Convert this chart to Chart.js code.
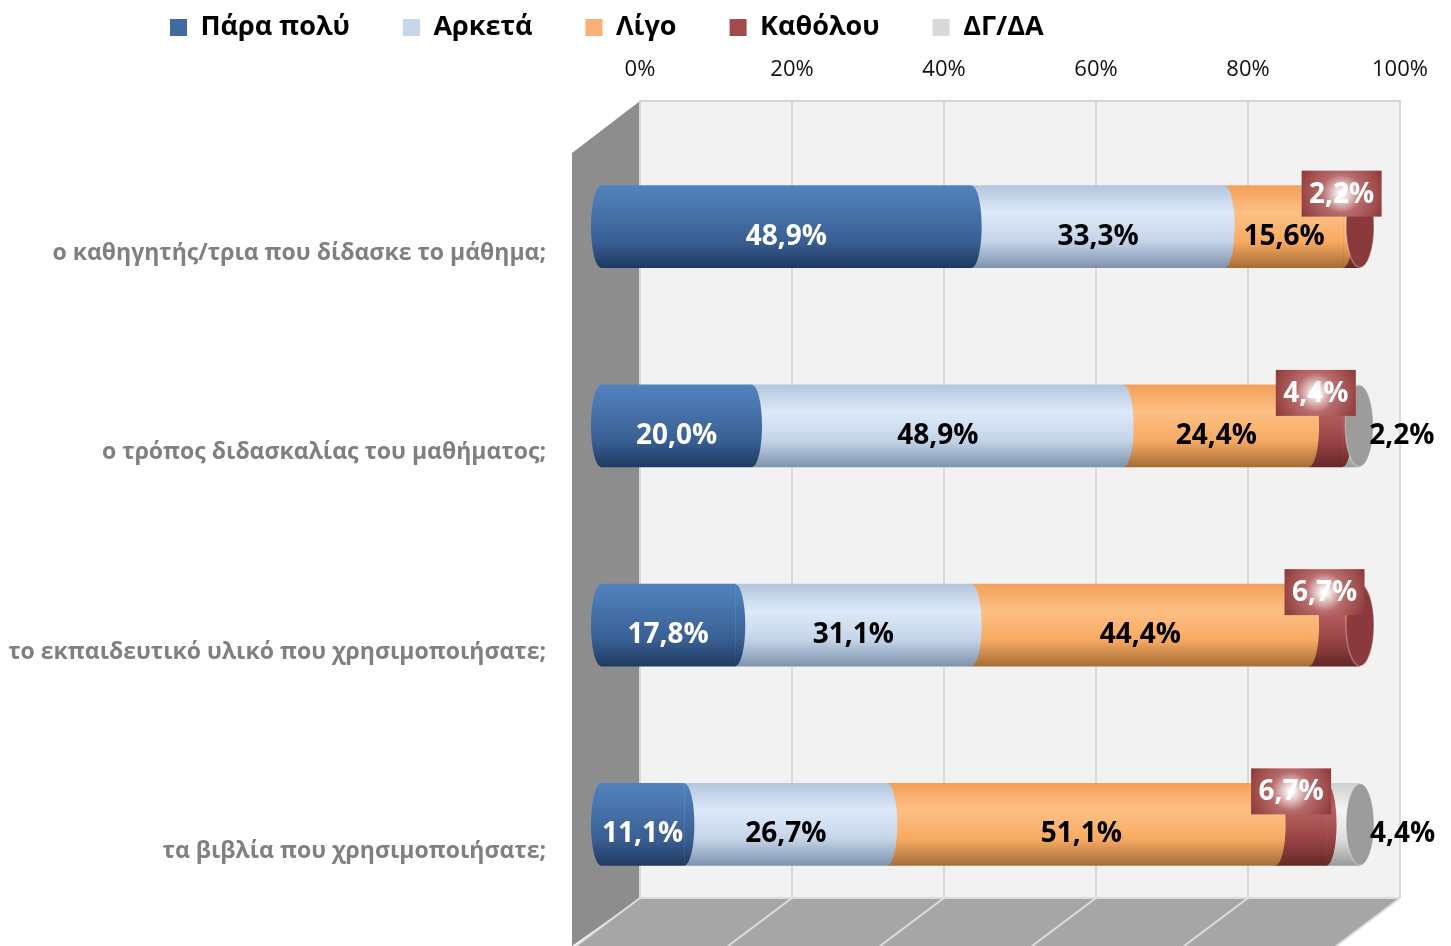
<!DOCTYPE html>
<html lang="el">
<head>
<meta charset="UTF-8">
<title>Αξιολόγηση μαθήματος</title>
<script src="https://cdn.jsdelivr.net/npm/chart.js"></script>
<style>
  html, body { margin: 0; padding: 0; background: #fff; }
</style>
</head>
<body>
<canvas id="chart" width="1451" height="946"></canvas>
<script>
  // data
  const questions = [
    "ο καθηγητής/τρια που δίδασκε το μάθημα;",
    "ο τρόπος διδασκαλίας του μαθήματος;",
    "το εκπαιδευτικό υλικό που χρησιμοποιήσατε;",
    "τα βιβλία που χρησιμοποιήσατε;"
  ];
  const seriesNames = ["Πάρα πολύ", "Αρκετά", "Λίγο", "Καθόλου", "ΔΓ/ΔΑ"];
  const paraPoly = [48.9, 20.0, 17.8, 11.1];
  const arketa   = [33.3, 48.9, 31.1, 26.7];
  const ligo     = [15.6, 24.4, 44.4, 51.1];
  const katholou = [2.2, 4.4, 6.7, 6.7];
  const dgda     = [0, 2.2, 0, 4.4];
  const tickValues = [0, 20, 40, 60, 80, 100];

  // cylinder shading: top, light band, middle, bottom
  const shades = [
    ["#5282bd", "#4672a9", "#395f93", "#1f3a61"],
    ["#b3c6de", "#dde9f9", "#c4d4e8", "#7e93ad"],
    ["#f3a05a", "#fdc084", "#f7aa63", "#a66d37"],
    ["#a24c4c", "#b65f5f", "#9a4545", "#652828"],
    ["#cfcfcf", "#f5f5f5", "#dddddd", "#9a9a9a"]
  ];
  const faceColors = ["#2f5285", "#9fb3cc", "#c98542", "#8a3a3a", "#9c9c9c"];
  const legendColors = ["#3f6ba1", "#c6d7ec", "#f9b074", "#a34b4b", "#d9d9d9"];
  const labelColors = ["#ffffff", "#000000", "#000000", "#ffffff", "#000000"];

  const SHIFT_X = -40, SHIFT_Y = 26, R = 41, BULGE = 10;
  const FONT = "'Open Sans', 'Noto Sans', sans-serif";

  function cylGrad(ctx, cy, c) {
    const g = ctx.createLinearGradient(0, cy - R, 0, cy + R);
    g.addColorStop(0, c[0]);
    g.addColorStop(0.33, c[1]);
    g.addColorStop(0.68, c[2]);
    g.addColorStop(1, c[3]);
    return g;
  }

  function fmt(v) {
    return v.toFixed(1).replace(".", ",") + "%";
  }

  const allSeries = [paraPoly, arketa, ligo, katholou, dgda];

  const datasets = allSeries.map((vals, i) => ({
    label: seriesNames[i],
    data: vals,
    borderWidth: 0,
    barThickness: 82,
    backgroundColor: (c) => {
      const chart = c.chart;
      if (!chart.chartArea) return legendColors[i];
      const cy = chart.scales.y.getPixelForValue(c.dataIndex);
      return cylGrad(chart.ctx, cy, shades[i]);
    }
  }));

  // back wall, left wall and floor of the 3D box
  const roomPlugin = {
    id: "room",
    beforeDraw(chart) {
      const { ctx, chartArea: a, scales } = chart;
      const dx = -64, dy = 48;
      ctx.save();
      ctx.fillStyle = "#f2f2f2";
      ctx.fillRect(a.left, a.top, a.right - a.left, a.bottom - a.top);
      // left wall
      ctx.fillStyle = "#8d8d8d";
      ctx.beginPath();
      ctx.moveTo(a.left, a.top);
      ctx.lineTo(a.left - 68, a.top + 52);
      ctx.lineTo(a.left - 68, 946);
      ctx.lineTo(a.left, a.bottom);
      ctx.closePath();
      ctx.fill();
      // floor
      ctx.fillStyle = "#a6a6a6";
      ctx.beginPath();
      ctx.moveTo(a.left, a.bottom);
      ctx.lineTo(a.right, a.bottom);
      ctx.lineTo(a.right + dx, a.bottom + dy);
      ctx.lineTo(a.left + dx, a.bottom + dy);
      ctx.closePath();
      ctx.fill();
      ctx.strokeStyle = "#dcdcdc";
      ctx.lineWidth = 2;
      tickValues.forEach(v => {
        const x = scales.x.getPixelForValue(v);
        ctx.beginPath();
        ctx.moveTo(x, a.bottom);
        ctx.lineTo(x + dx, a.bottom + dy);
        ctx.stroke();
      });
      ctx.beginPath();
      ctx.moveTo(a.left, a.bottom);
      ctx.lineTo(a.right, a.bottom);
      ctx.stroke();
      ctx.restore();
    }
  };

  // bars sit in front of the back wall: shift them, add round ends and labels
  const cylinderPlugin = {
    id: "cylinder",
    afterLayout(chart) {
      const lg = chart.legend;
      if (lg) {
        lg.left = 117;
        lg.top = -39;
        lg.bottom = 60;
      }
    },
    beforeDatasetsDraw(chart) {
      chart.ctx.save();
      chart.ctx.translate(SHIFT_X, SHIFT_Y);
    },
    afterDatasetsDraw(chart) {
      const ctx = chart.ctx;
      const rows = questions.length;
      const labels = [];
      for (let r = 0; r < rows; r++) {
        const segs = [];
        chart.data.datasets.forEach((ds, d) => {
          const el = chart.getDatasetMeta(d).data[r];
          const v = ds.data[r];
          if (v > 0) segs.push({ d, v, x0: el.base, x1: el.x, cy: el.y });
        });
        segs.forEach((s, k) => {
          ctx.fillStyle = cylGrad(ctx, s.cy, shades[s.d]);
          if (k === 0) {
            ctx.beginPath();
            ctx.ellipse(s.x0, s.cy, BULGE, R, 0, Math.PI / 2, Math.PI * 1.5);
            ctx.closePath();
            ctx.fill();
          }
          if (k < segs.length - 1) {
            ctx.beginPath();
            ctx.ellipse(s.x1, s.cy, BULGE, R, 0, -Math.PI / 2, Math.PI / 2);
            ctx.closePath();
            ctx.fill();
          } else {
            ctx.fillStyle = faceColors[s.d];
            ctx.beginPath();
            ctx.ellipse(s.x1, s.cy, 14, R, 0, 0, Math.PI * 2);
            ctx.fill();
            ctx.strokeStyle = "rgba(255,255,255,0.3)";
            ctx.lineWidth = 1.5;
            ctx.stroke();
          }
          labels.push(s);
        });
      }
      ctx.restore();

      ctx.save();
      ctx.font = "bold 28px " + FONT;
      ctx.textBaseline = "middle";
      labels.forEach(s => {
        const cx = (s.x0 + s.x1) / 2 + SHIFT_X;
        const cy = s.cy + SHIFT_Y;
        const text = fmt(s.v);
        if (s.d === 3) {
          const bx = cx - 10, by = cy - 33, w = 80, h = 46;
          const g = ctx.createRadialGradient(bx, by, 2, bx, by, 46);
          g.addColorStop(0, "#ffffff");
          g.addColorStop(0.4, "#b86b6b");
          g.addColorStop(1, "#8e3838");
          ctx.fillStyle = g;
          ctx.fillRect(bx - w / 2, by - h / 2, w, h);
          ctx.fillStyle = "#ffffff";
          ctx.textAlign = "center";
          ctx.fillText(text, bx, by + 1);
        } else if (s.d === 4) {
          ctx.fillStyle = "#000000";
          ctx.textAlign = "left";
          ctx.fillText(text, s.x1 + SHIFT_X + 10, cy + 10);
        } else {
          ctx.fillStyle = labelColors[s.d];
          ctx.textAlign = "center";
          ctx.fillText(text, cx, cy + 10);
        }
      });
      ctx.restore();
    }
  };

  new Chart(document.getElementById("chart"), {
    type: "bar",
    data: { labels: questions, datasets: datasets },
    options: {
      indexAxis: "y",
      responsive: false,
      animation: false,
      layout: { padding: { left: 0, right: 51, top: 0, bottom: 48 } },
      scales: {
        x: {
          position: "top",
          stacked: true,
          min: 0,
          max: 100,
          afterFit: s => {
            s.height = 61;
            s.paddingLeft = 0;
            s.paddingRight = 0;
          },
          ticks: {
            stepSize: 20,
            padding: 18,
            color: "#111111",
            font: { family: FONT, size: 22 },
            callback: v => v + "%"
          },
          grid: { color: "#d9d9d9", lineWidth: 2, drawTicks: false },
          border: { display: true, color: "#d4d4d4", width: 2 }
        },
        y: {
          stacked: true,
          afterFit: s => {
            s.width = 640;
            s.paddingTop = 0;
            s.paddingBottom = 0;
          },
          ticks: {
            padding: 94,
            labelOffset: 53,
            color: "#808080",
            font: { family: FONT, size: 23, weight: "bold" }
          },
          grid: { display: false, drawTicks: false },
          border: { display: false }
        }
      },
      plugins: {
        legend: {
          position: "top",
          align: "start",
          maxHeight: 40,
          labels: {
            boxWidth: 17,
            boxHeight: 17,
            padding: 53,
            color: "#404040",
            font: { family: FONT, size: 27, weight: "bold" },
            generateLabels: () => seriesNames.map((n, i) => ({
              text: n,
              fillStyle: legendColors[i],
              strokeStyle: legendColors[i],
              lineWidth: 0,
              datasetIndex: i
            }))
          }
        },
        tooltip: { enabled: false }
      }
    },
    plugins: [roomPlugin, cylinderPlugin]
  });
</script>
</body>
</html>
